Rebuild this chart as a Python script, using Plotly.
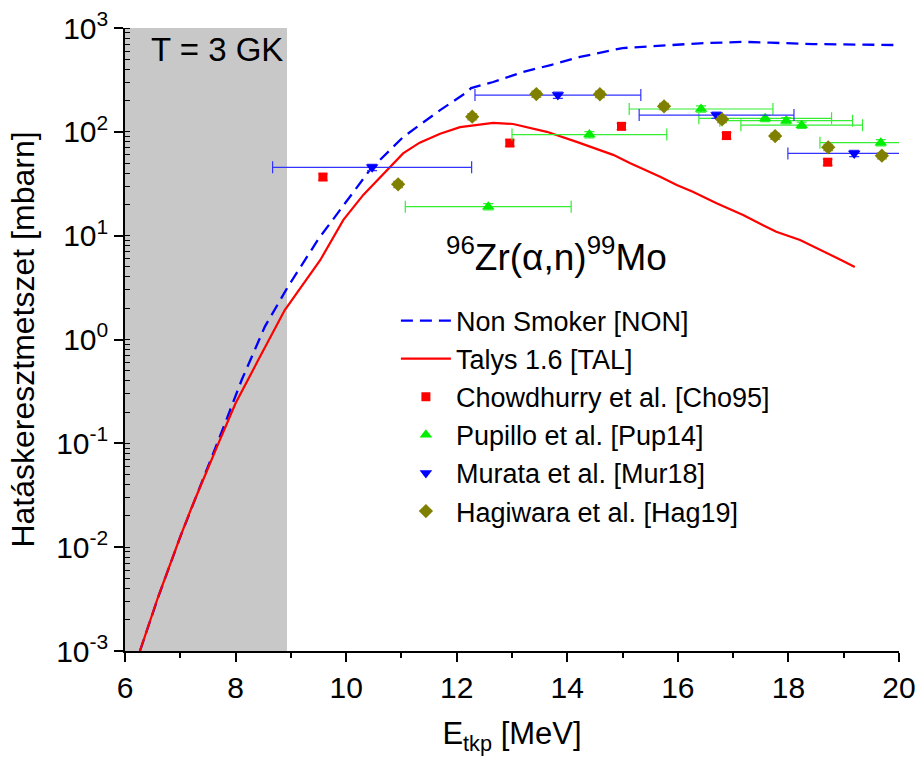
import plotly.graph_objects as go

# Energy grid (MeV) and cross sections (mbarn) of the model curves
non_E = [6.27, 6.42, 6.6, 7.0, 7.4, 7.81, 8.11, 8.53, 8.95, 9.22, 9.5, 9.98,
         10.43, 11.03, 11.7, 12.19, 12.26, 12.66, 13.2, 13.7, 14.23, 15.0,
         15.55, 16.0, 16.4, 16.82, 17.2, 17.67, 18.0, 18.44, 19.0, 19.5, 20.0]
non_sigma = [0.001, 0.0017, 0.0033, 0.0126, 0.0428, 0.156, 0.407, 1.33, 3.24,
             5.4, 9.3, 20.5, 43, 89, 162, 242, 264, 302, 377, 440, 526, 641,
             671, 690, 712, 725, 735, 722, 712, 700, 695, 690, 685]

tal_E = [6.27, 6.6, 7.0, 7.21, 7.69, 8.0, 8.41, 8.89, 9.53, 9.95, 10.31,
         10.79, 11.03, 11.33, 11.7, 12.06, 12.66, 13.02, 13.63, 14.17, 14.59,
         14.83, 15.13, 15.5, 15.68, 15.98, 16.27, 16.7, 17.18, 17.48, 17.78,
         18.21, 18.63, 18.96, 19.2]
tal_sigma = [0.001, 0.00333, 0.0126, 0.0245, 0.1, 0.243, 0.634, 1.92, 5.8,
             14.2, 24.7, 46, 62, 78.6, 96, 111, 122, 119, 100, 80, 67, 60, 50,
             41, 37, 30.7, 26.5, 20.5, 15.8, 13.1, 10.9, 9.1, 7.0, 5.8, 5.0]

# Experimental data
cho_E = [9.58, 12.96, 14.98, 16.88, 18.71]
cho_sigma = [36.7, 78, 113, 92, 51]

pup_E = [12.57, 14.40, 16.42, 17.58, 17.96, 18.24, 19.67]
pup_sigma = [19.0, 94, 166, 135, 128, 116, 78.6]
pup_dE = [1.5, 1.4, 1.3, 1.2, 1.2, 1.1, 1.1]

mur_E = [10.47, 13.83, 16.70, 19.19]
mur_sigma = [45.5, 226, 145, 62]
mur_dE = [1.8, 1.5, 1.4, 1.2]

hag_E = [10.94, 12.28, 13.44, 14.59, 15.75, 16.80, 17.76, 18.72, 19.69]
hag_sigma = [31.2, 140, 231, 230, 176, 132, 91, 71, 59]

sigma_rel_err = 7  # percent

y_tickvals = [1e-3, 1e-2, 1e-1, 1e0, 1e1, 1e2, 1e3]
y_ticktext = ["10<sup>-3</sup>", "10<sup>-2</sup>", "10<sup>-1</sup>",
              "10<sup>0</sup>", "10<sup>1</sup>", "10<sup>2</sup>", "10<sup>3</sup>"]

FONT = "Liberation Sans, Arial, sans-serif"

fig = go.Figure()

fig.add_trace(go.Scatter(x=non_E, y=non_sigma, mode="lines",
                         name="Non Smoker [NON]",
                         line=dict(color="#0000ff", width=2.3, dash="12px,7px")))
fig.add_trace(go.Scatter(x=tal_E, y=tal_sigma, mode="lines",
                         name="Talys 1.6 [TAL]",
                         line=dict(color="#ff0000", width=2.2)))

fig.add_trace(go.Scatter(
    x=cho_E, y=cho_sigma, mode="markers", name="Chowdhurry et al. [Cho95]",
    marker=dict(symbol="square", size=9, color="#ff0000"),
    error_y=dict(type="percent", value=sigma_rel_err, color="#ff6060",
                 thickness=1.2, width=5)))
fig.add_trace(go.Scatter(
    x=pup_E, y=pup_sigma, mode="markers", name="Pupillo et al. [Pup14]",
    marker=dict(symbol="triangle-up", size=11, color="#00ee00"),
    error_x=dict(type="data", array=pup_dE, color="#33ee33",
                 thickness=1.2, width=6),
    error_y=dict(type="percent", value=sigma_rel_err, color="#33ee33",
                 thickness=1.2, width=5)))
fig.add_trace(go.Scatter(
    x=mur_E, y=mur_sigma, mode="markers", name="Murata et al. [Mur18]",
    marker=dict(symbol="triangle-down", size=11, color="#0000ff"),
    error_x=dict(type="data", array=mur_dE, color="#3333ff",
                 thickness=1.2, width=6),
    error_y=dict(type="percent", value=sigma_rel_err, color="#3333ff",
                 thickness=1.2, width=5)))
fig.add_trace(go.Scatter(
    x=hag_E, y=hag_sigma, mode="markers", name="Hagiwara et al. [Hag19]",
    marker=dict(symbol="diamond", size=11, color="#808000"),
    error_y=dict(type="percent", value=sigma_rel_err, color="#a0a040",
                 thickness=1.2, width=5)))

# Gamow window at T = 3 GK
fig.add_shape(type="rect", xref="x", yref="y domain", x0=6, x1=8.93,
              y0=0, y1=1, fillcolor="#c8c8c8", line_width=0, layer="below")

fig.add_annotation(x=6.43, y=0.965, xref="x", yref="paper", text="T = 3 GK",
                   showarrow=False, xanchor="left", yanchor="middle",
                   font=dict(family=FONT, size=33, color="black"))
fig.add_annotation(x=13.81, y=0.637, xref="x", yref="paper",
                   text="<sup>96</sup>Zr(α,n)<sup>99</sup>Mo",
                   showarrow=False, xanchor="center", yanchor="middle",
                   font=dict(family=FONT, size=37, color="black"))

fig.update_layout(
    width=920, height=759,
    margin=dict(l=125, r=21, t=28, b=108, autoexpand=False),
    paper_bgcolor="white", plot_bgcolor="white",
    showlegend=True,
    legend=dict(x=0.35, y=0.569, xanchor="left", yanchor="top",
                bgcolor="rgba(0,0,0,0)", font=dict(family=FONT, size=27,
                                                  color="black"),
                itemwidth=50),
    xaxis=dict(range=[6, 20], dtick=2, tick0=6, showgrid=False, zeroline=False,
               automargin=False,
               showline=True, linecolor="black", linewidth=1.5,
               ticks="outside", ticklen=9, tickwidth=1.5, tickcolor="black",
               minor=dict(dtick=1, ticks="outside", ticklen=5, tickwidth=1.5,
                          tickcolor="black"),
               tickfont=dict(family=FONT, size=30, color="black"),
               title=dict(text="E<sub>tkp</sub> [MeV]", standoff=20,
                          font=dict(family=FONT, size=31, color="black"))),
    yaxis=dict(type="log", range=[-3, 3], tickvals=y_tickvals,
               ticktext=y_ticktext, showgrid=False, zeroline=False,
               automargin=False,
               showline=True, linecolor="black", linewidth=1.5,
               ticks="outside", ticklen=9, tickwidth=1.5, tickcolor="black",
               minor=dict(ticks="inside", ticklen=5, tickwidth=1,
                          tickcolor="black", dtick="D1"),
               tickfont=dict(family=FONT, size=30, color="black"),
               title=dict(text="Hatáskeresztmetszet [mbarn]", standoff=12,
                          font=dict(family=FONT, size=32, color="black"))),
)

fig.write_html("out.html")
